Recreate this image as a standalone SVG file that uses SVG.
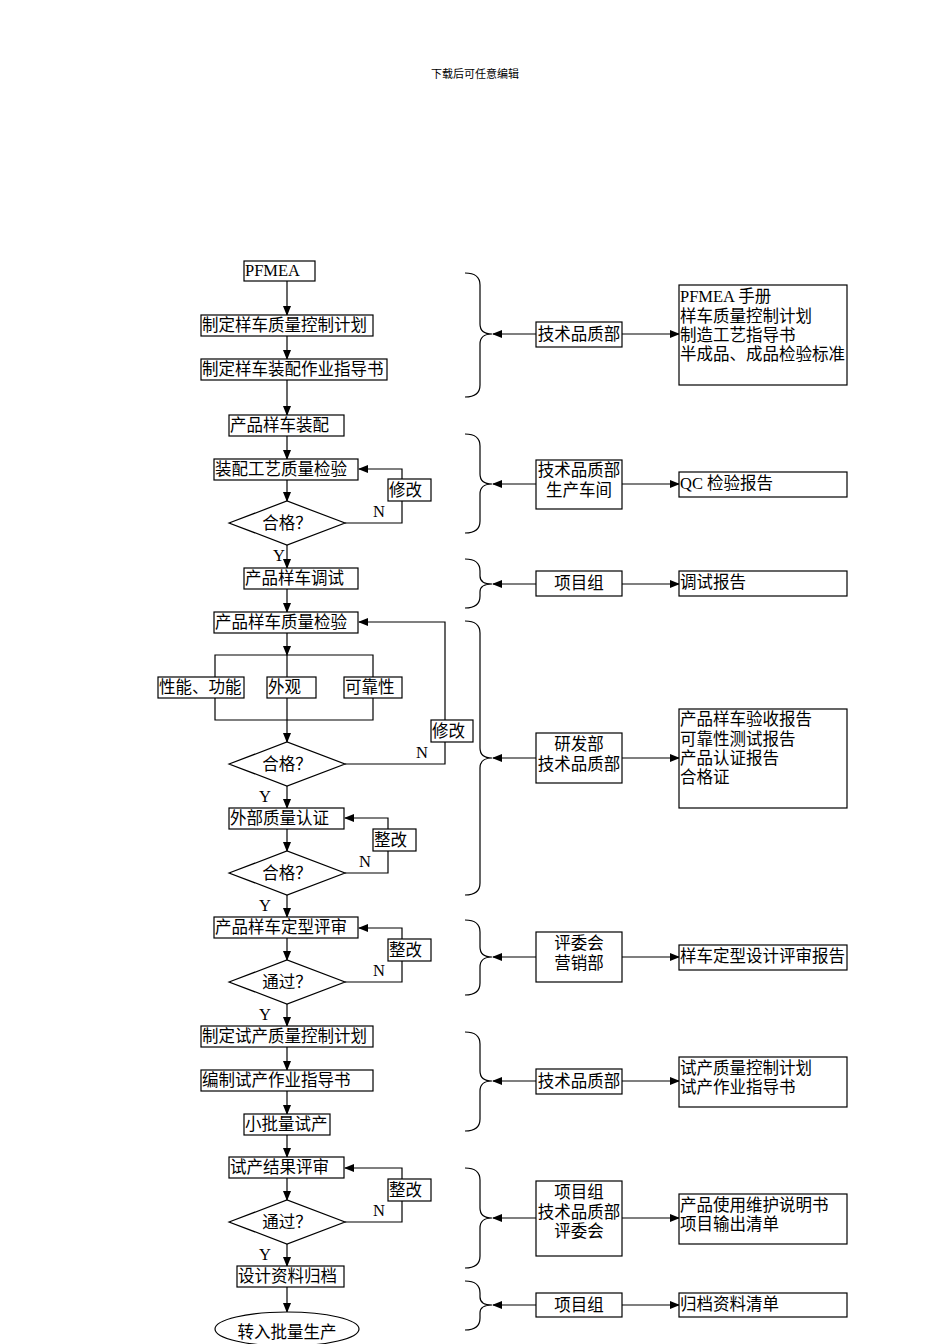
<svg xmlns="http://www.w3.org/2000/svg" width="950" height="1344" viewBox="0 0 950 1344">
<defs>
<marker id="ah" markerWidth="10" markerHeight="8" refX="9" refY="4" orient="auto" markerUnits="userSpaceOnUse"><path d="M0,0 L10,4 L0,8 Z" fill="#000"/></marker>
<style>
rect,polygon,ellipse{fill:#fff;stroke:#000;stroke-width:1.2}
text{font-family:"Liberation Serif","Noto Sans CJK SC",serif;font-size:16.5px;fill:#000}
.c{text-anchor:middle}
.ln{fill:none;stroke:#000;stroke-width:1.2}
.ar{fill:none;stroke:#000;stroke-width:1.2;marker-end:url(#ah)}
.br{fill:none;stroke:#000;stroke-width:1.2}
</style>
</defs>
<rect x="0" y="0" width="950" height="1344" style="fill:#fff;stroke:none"/>
<text x="475" y="78" class="c" style="font-size:11px">下载后可任意编辑</text>

<g id="connectors">
<path class="ar" d="M287,281 V315"/>
<path class="ar" d="M287,336 V359"/>
<path class="ar" d="M287,380 V415"/>
<path class="ar" d="M287,436 V459"/>
<path class="ar" d="M287,480 V501"/>
<path class="ar" d="M345,523 H402 V469 H359"/>
<path class="ar" d="M287,545 V568"/>
<path class="ar" d="M287,589 V612"/>
<path class="ar" d="M287,633 V655"/>
<path class="ln" d="M215,677 V655 H373 V677 M287,655 V677 M215,698 V720 H373 V698 M287,698 V720"/>
<path class="ar" d="M287,720 V742"/>
<path class="ar" d="M345,764 H445 V622 H359"/>
<path class="ar" d="M287,786 V808"/>
<path class="ar" d="M287,829 V851"/>
<path class="ar" d="M345,873 H388 V818 H345"/>
<path class="ar" d="M287,895 V917"/>
<path class="ar" d="M287,938 V960"/>
<path class="ar" d="M345,982 H402 V928 H359"/>
<path class="ar" d="M287,1004 V1026"/>
<path class="ar" d="M287,1047 V1070"/>
<path class="ar" d="M287,1091 V1114"/>
<path class="ar" d="M287,1135 V1157"/>
<path class="ar" d="M287,1178 V1200"/>
<path class="ar" d="M345,1222 H402 V1168 H345"/>
<path class="ar" d="M287,1244 V1266"/>
<path class="ar" d="M287,1287 V1312"/>

<path class="br" d="M465,273 Q480,273 480,285 L480,324 Q480,334 492,334 Q480,334 480,344 L480,385 Q480,397 465,397"/>
<path class="br" d="M465,434 Q480,434 480,446 L480,474 Q480,484 492,484 Q480,484 480,494 L480,521 Q480,533 465,533"/>
<path class="br" d="M465,559 Q480,559 480,571 L480,576 Q480,584 492,584 Q480,584 480,592 L480,596 Q480,608 465,608"/>
<path class="br" d="M465,621 Q480,621 480,633 L480,748 Q480,758 492,758 Q480,758 480,768 L480,883 Q480,895 465,895"/>
<path class="br" d="M465,920 Q480,920 480,932 L480,947 Q480,957 492,957 Q480,957 480,967 L480,983 Q480,995 465,995"/>
<path class="br" d="M465,1032 Q480,1032 480,1044 L480,1071 Q480,1081 492,1081 Q480,1081 480,1091 L480,1119 Q480,1131 465,1131"/>
<path class="br" d="M465,1168 Q480,1168 480,1180 L480,1208 Q480,1218 492,1218 Q480,1218 480,1228 L480,1256 Q480,1268 465,1268"/>
<path class="br" d="M465,1281 Q480,1281 480,1293 L480,1297 Q480,1305 492,1305 Q480,1305 480,1313 L480,1318 Q480,1330 465,1330"/>

<path class="ar" d="M536,334 H493"/><path class="ar" d="M622,334 H679"/>
<path class="ar" d="M536,484 H493"/><path class="ar" d="M622,484 H679"/>
<path class="ar" d="M536,584 H493"/><path class="ar" d="M622,584 H679"/>
<path class="ar" d="M536,758 H493"/><path class="ar" d="M622,758 H679"/>
<path class="ar" d="M536,957 H493"/><path class="ar" d="M622,957 H679"/>
<path class="ar" d="M536,1081 H493"/><path class="ar" d="M622,1081 H679"/>
<path class="ar" d="M536,1218 H493"/><path class="ar" d="M622,1218 H679"/>
<path class="ar" d="M536,1305 H493"/><path class="ar" d="M622,1305 H679"/>
</g>

<g id="n1"><rect x="244" y="261" width="71" height="20"/><text x="245" y="276">PFMEA</text></g>
<g id="n2"><rect x="201" y="315" width="172" height="21"/><text x="202" y="331">制定样车质量控制计划</text></g>
<g id="n3"><rect x="201" y="359" width="186" height="21"/><text x="202" y="375">制定样车装配作业指导书</text></g>
<g id="n4"><rect x="229" y="415" width="115" height="21"/><text x="230" y="431">产品样车装配</text></g>
<g id="n5"><rect x="214" y="459" width="144" height="21"/><text x="215" y="475">装配工艺质量检验</text></g>
<g id="n6"><rect x="388" y="479" width="43" height="22"/><text x="389" y="496">修改</text></g>
<g id="d1"><polygon points="229,523 287,501 345,523 287,545"/><text x="287" y="529" class="c">合格？</text></g>
<text x="379" y="517" class="c">N</text><text x="279" y="561" class="c">Y</text>
<g id="n7"><rect x="244" y="568" width="114" height="21"/><text x="245" y="584">产品样车调试</text></g>
<g id="n8"><rect x="214" y="612" width="144" height="21"/><text x="215" y="628">产品样车质量检验</text></g>
<g id="n9"><rect x="158" y="677" width="86" height="21"/><text x="159" y="693">性能、功能</text></g>
<g id="n10"><rect x="267" y="677" width="49" height="21"/><text x="268" y="693">外观</text></g>
<g id="n11"><rect x="344" y="677" width="58" height="21"/><text x="345" y="693">可靠性</text></g>
<g id="n12"><rect x="431" y="720" width="42" height="22"/><text x="432" y="737">修改</text></g>
<g id="d2"><polygon points="229,764 287,742 345,764 287,786"/><text x="287" y="770" class="c">合格？</text></g>
<text x="422" y="758" class="c">N</text><text x="265" y="802" class="c">Y</text>
<g id="n13"><rect x="229" y="808" width="115" height="21"/><text x="230" y="824">外部质量认证</text></g>
<g id="n14"><rect x="373" y="829" width="43" height="22"/><text x="374" y="846">整改</text></g>
<g id="d3"><polygon points="229,873 287,851 345,873 287,895"/><text x="287" y="879" class="c">合格？</text></g>
<text x="365" y="867" class="c">N</text><text x="265" y="911" class="c">Y</text>
<g id="n15"><rect x="214" y="917" width="144" height="21"/><text x="215" y="933">产品样车定型评审</text></g>
<g id="n16"><rect x="388" y="939" width="43" height="22"/><text x="389" y="956">整改</text></g>
<g id="d4"><polygon points="229,982 287,960 345,982 287,1004"/><text x="287" y="988" class="c">通过？</text></g>
<text x="379" y="976" class="c">N</text><text x="265" y="1020" class="c">Y</text>
<g id="n17"><rect x="201" y="1026" width="172" height="21"/><text x="202" y="1042">制定试产质量控制计划</text></g>
<g id="n18"><rect x="201" y="1070" width="172" height="21"/><text x="202" y="1086">编制试产作业指导书</text></g>
<g id="n19"><rect x="244" y="1114" width="86" height="21"/><text x="245" y="1130">小批量试产</text></g>
<g id="n20"><rect x="229" y="1157" width="115" height="21"/><text x="230" y="1173">试产结果评审</text></g>
<g id="n21"><rect x="388" y="1179" width="43" height="22"/><text x="389" y="1196">整改</text></g>
<g id="d5"><polygon points="229,1222 287,1200 345,1222 287,1244"/><text x="287" y="1228" class="c">通过？</text></g>
<text x="379" y="1216" class="c">N</text><text x="265" y="1260" class="c">Y</text>
<g id="n22"><rect x="237" y="1266" width="107" height="21"/><text x="238" y="1282">设计资料归档</text></g>
<g id="n23"><ellipse cx="287" cy="1329" rx="72" ry="17"/><text x="287" y="1338" class="c">转入批量生产</text></g>

<g id="m1"><rect x="536" y="322" width="86" height="25"/><text x="579" y="340" class="c">技术品质部</text></g>
<g id="m2"><rect x="536" y="460" width="86" height="49"/><text x="579" y="476" class="c">技术品质部</text><text x="579" y="496" class="c">生产车间</text></g>
<g id="m3"><rect x="536" y="571" width="86" height="25"/><text x="579" y="589" class="c">项目组</text></g>
<g id="m4"><rect x="536" y="733" width="86" height="50"/><text x="579" y="750" class="c">研发部</text><text x="579" y="770" class="c">技术品质部</text></g>
<g id="m5"><rect x="536" y="932" width="86" height="50"/><text x="579" y="949" class="c">评委会</text><text x="579" y="969" class="c">营销部</text></g>
<g id="m6"><rect x="536" y="1069" width="86" height="25"/><text x="579" y="1087" class="c">技术品质部</text></g>
<g id="m7"><rect x="536" y="1181" width="86" height="75"/><text x="579" y="1198" class="c">项目组</text><text x="579" y="1218" class="c">技术品质部</text><text x="579" y="1237" class="c">评委会</text></g>
<g id="m8"><rect x="536" y="1293" width="86" height="24"/><text x="579" y="1311" class="c">项目组</text></g>

<g id="r1"><rect x="679" y="285" width="168" height="100"/><text x="680" y="302">PFMEA 手册</text><text x="680" y="322">样车质量控制计划</text><text x="680" y="341">制造工艺指导书</text><text x="680" y="360">半成品、成品检验标准</text></g>
<g id="r2"><rect x="679" y="472" width="168" height="25"/><text x="680" y="489">QC 检验报告</text></g>
<g id="r3"><rect x="679" y="571" width="168" height="25"/><text x="680" y="588">调试报告</text></g>
<g id="r4"><rect x="679" y="709" width="168" height="99"/><text x="680" y="725">产品样车验收报告</text><text x="680" y="745">可靠性测试报告</text><text x="680" y="764">产品认证报告</text><text x="680" y="783">合格证</text></g>
<g id="r5"><rect x="679" y="945" width="168" height="25"/><text x="680" y="962">样车定型设计评审报告</text></g>
<g id="r6"><rect x="679" y="1057" width="168" height="50"/><text x="680" y="1074">试产质量控制计划</text><text x="680" y="1093">试产作业指导书</text></g>
<g id="r7"><rect x="679" y="1194" width="168" height="50"/><text x="680" y="1211">产品使用维护说明书</text><text x="680" y="1230">项目输出清单</text></g>
<g id="r8"><rect x="679" y="1293" width="168" height="24"/><text x="680" y="1310">归档资料清单</text></g>
</svg>
